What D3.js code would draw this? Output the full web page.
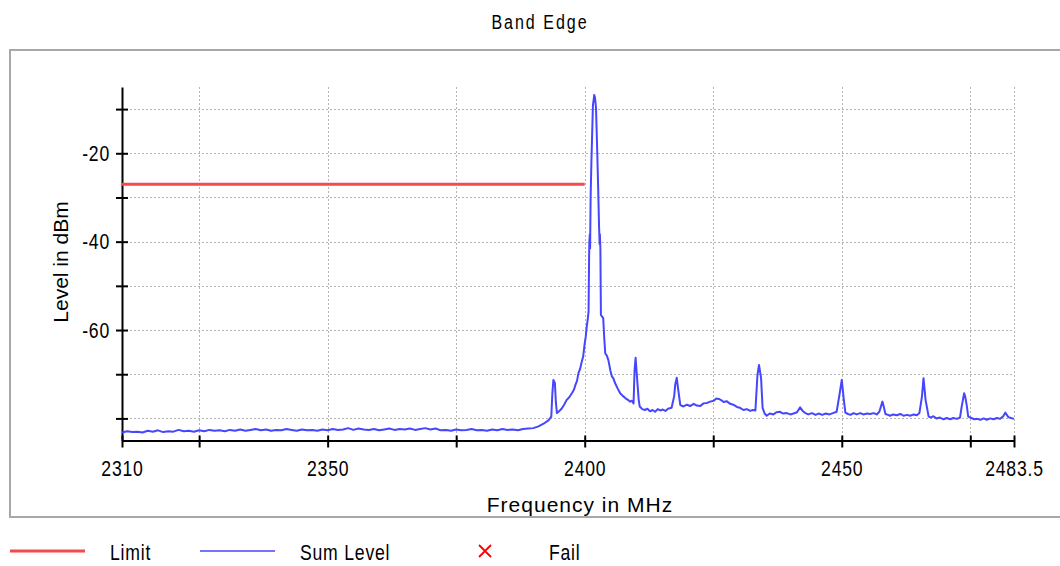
<!DOCTYPE html>
<html>
<head>
<meta charset="utf-8">
<script src="https://cdn.jsdelivr.net/npm/d3@7"></script>
<style>
  body { margin: 0; background: #fff; }
  svg { display: block; }
  .narrow { font-family: "Liberation Sans", Arial, sans-serif; fill: #000; }
  .axis-title { font-family: "Liberation Sans", Arial, sans-serif; font-size: 21px; fill: #000; }
</style>
</head>
<body>
<svg id="chart" width="1060" height="566"></svg>
<script>
const chartTitle = 'Band Edge'
const xTitle = 'Frequency in MHz'
const yTitle = 'Level in dBm'
const freqDomain = [2310, 2483.5]
const levelDomain = [-85, -5]
const xTicks = [2310, 2325, 2350, 2375, 2400, 2425, 2450, 2475, 2483.5]
const xTickLabels = [2310, 2350, 2400, 2450, 2483.5]
const yTicks = [-10, -20, -30, -40, -50, -60, -70, -80]
const yTickLabels = [-20, -40, -60]
const legendNames = ['Limit', 'Sum Level', 'Fail']

// limit line: [freq MHz, level dBm]
const limit = [[2310, -27], [2400, -27]]

// Sum Level trace: [freq MHz, level dBm]
const sumLevel = [
  [2310, -83.2], [2311, -82.9], [2312, -83.1], [2313, -83.0], [2314, -83.2], [2315, -82.8], [2316, -83.0],
  [2317, -82.7], [2318, -83.1], [2319, -82.9], [2320, -83.0], [2321, -82.6], [2322, -82.9], [2323, -82.8],
  [2324, -83.0], [2325, -82.7], [2326, -82.9], [2327, -82.6], [2328, -82.8], [2329, -82.7], [2330, -82.9],
  [2331, -82.6], [2332, -82.8], [2333, -82.5], [2334, -82.8], [2335, -82.6], [2336, -82.4], [2337, -82.7],
  [2338, -82.5], [2339, -82.8], [2340, -82.6], [2341, -82.7], [2342, -82.4], [2343, -82.6], [2344, -82.8],
  [2345, -82.5], [2346, -82.7], [2347, -82.6], [2348, -82.8], [2349, -82.5], [2350, -82.7], [2351, -82.4],
  [2352, -82.6], [2353, -82.5], [2354, -82.2], [2355, -82.6], [2356, -82.3], [2357, -82.5], [2358, -82.6],
  [2359, -82.4], [2360, -82.7], [2361, -82.5], [2362, -82.3], [2363, -82.6], [2364, -82.4], [2365, -82.5],
  [2366, -82.3], [2367, -82.6], [2368, -82.4], [2369, -82.2], [2370, -82.5], [2371, -82.3], [2372, -82.7],
  [2373, -82.6], [2374, -82.8], [2375, -82.5], [2376, -82.7], [2377, -82.6], [2378, -82.4], [2379, -82.7],
  [2380, -82.6], [2381, -82.8], [2382, -82.5], [2383, -82.7], [2384, -82.4], [2385, -82.6], [2386, -82.5],
  [2387, -82.7], [2388, -82.4], [2389, -82.3], [2390, -82.2], [2391, -81.8], [2392, -81.2], [2393, -80.4],
  [2393.5, -79.6], [2393.7, -74.5], [2393.9, -71.3], [2394.2, -72.0], [2394.4, -76.5], [2394.6, -78.8],
  [2395.0, -78.4], [2395.5, -77.8], [2396.0, -76.9], [2396.5, -75.8], [2397.0, -75.2], [2397.5, -74.3],
  [2397.9, -73.5], [2398.2, -72.4], [2398.5, -71.5], [2398.8, -69.7], [2399.1, -68.8], [2399.4, -67.3],
  [2399.7, -66.0], [2400.0, -63.0], [2400.2, -61.5], [2400.4, -59.2], [2400.6, -57.5], [2400.75, -55.8],
  [2400.85, -44.0], [2400.9, -40.0], [2401.0, -38.3], [2401.05, -41.5], [2401.15, -30.0], [2401.3, -22.0],
  [2401.6, -9.1], [2401.75, -7.8], [2401.85, -6.8], [2402.0, -7.4], [2402.2, -9.8], [2402.4, -18.0],
  [2402.6, -27.0], [2402.8, -36.9], [2402.9, -40.5], [2402.95, -38.3], [2403.05, -41.5], [2403.15, -56.6],
  [2403.6, -57.3], [2403.8, -61.8], [2404.0, -65.3], [2404.3, -65.8], [2404.6, -66.8], [2405.0, -69.2],
  [2405.3, -70.5], [2405.6, -71.0], [2405.9, -72.0], [2406.4, -73.2], [2406.9, -74.3], [2407.4, -74.9],
  [2407.9, -75.4], [2408.4, -75.8], [2408.8, -76.2], [2409.2, -76.0], [2409.5, -76.6], [2409.7, -69.0],
  [2409.9, -66.3], [2410.1, -69.5], [2410.5, -75.8], [2410.7, -77.3], [2411.2, -77.9], [2411.7, -78.1],
  [2412.2, -77.8], [2412.7, -78.4], [2413.2, -78.1], [2413.7, -78.5], [2414.2, -77.9], [2414.7, -78.2],
  [2415.2, -78.0], [2415.7, -78.3], [2416.2, -77.8], [2416.9, -77.6], [2417.4, -75.0], [2417.6, -72.4],
  [2417.9, -70.8], [2418.2, -73.6], [2418.6, -77.0], [2419.2, -77.3], [2419.9, -76.9], [2420.5, -77.2],
  [2421.2, -76.7], [2421.8, -77.1], [2422.5, -77.2], [2423.1, -76.6], [2423.8, -76.5], [2424.4, -76.2],
  [2425.1, -76.0], [2425.6, -75.5], [2426.1, -75.6], [2426.6, -75.9], [2427.0, -76.3], [2427.6, -76.1],
  [2428.3, -76.7], [2428.9, -76.9], [2429.6, -77.4], [2430.2, -77.6], [2430.9, -78.1], [2431.5, -77.9],
  [2432.2, -78.3], [2432.7, -78.1], [2433.2, -78.2], [2433.6, -70.2], [2433.9, -67.9], [2434.3, -70.8],
  [2434.6, -77.6], [2435.0, -78.9], [2435.4, -79.4], [2436.0, -78.9], [2436.7, -79.1], [2437.3, -78.6],
  [2438.0, -78.5], [2438.6, -78.9], [2439.3, -78.8], [2440.0, -79.1], [2440.6, -78.9], [2441.3, -78.6],
  [2441.9, -77.5], [2442.4, -78.3], [2442.9, -78.8], [2443.5, -79.1], [2444.2, -78.8], [2444.9, -79.2],
  [2445.5, -78.9], [2446.2, -79.2], [2446.9, -78.9], [2447.6, -79.1], [2448.3, -78.8], [2449.0, -78.5],
  [2449.6, -74.3], [2450.0, -71.3], [2450.4, -75.8], [2450.7, -78.7], [2451.2, -79.0], [2451.7, -79.2],
  [2452.3, -78.8], [2452.9, -79.1], [2453.6, -78.8], [2454.2, -79.1], [2454.9, -78.9], [2455.5, -79.0],
  [2456.2, -78.8], [2456.8, -79.1], [2457.3, -78.5], [2457.7, -77.0], [2457.9, -76.2], [2458.2, -77.5],
  [2458.5, -79.0], [2459.0, -79.2], [2459.4, -79.4], [2460.0, -79.1], [2460.7, -79.3], [2461.4, -79.0],
  [2462.0, -79.4], [2462.7, -79.2], [2463.3, -79.4], [2464.0, -79.1], [2464.6, -79.3], [2465.1, -78.8],
  [2465.6, -75.0], [2465.9, -70.9], [2466.3, -75.8], [2466.9, -79.6], [2467.4, -79.8], [2467.8, -79.5],
  [2468.4, -80.0], [2469.1, -79.8], [2469.8, -80.2], [2470.4, -79.9], [2471.1, -80.2], [2471.7, -79.9],
  [2472.4, -80.1], [2473.0, -79.8], [2473.3, -77.5], [2473.5, -76.2], [2473.8, -74.3], [2474.0, -75.0],
  [2474.3, -77.0], [2474.6, -79.6], [2475.2, -79.9], [2475.8, -80.2], [2476.3, -80.1], [2477.0, -80.3],
  [2477.6, -80.0], [2478.2, -80.3], [2478.9, -80.0], [2479.5, -80.2], [2480.2, -79.9], [2480.8, -80.1],
  [2481.4, -79.5], [2481.8, -78.7], [2482.1, -79.2], [2482.4, -79.7], [2482.9, -79.9], [2483.5, -80.1]
]

const svg = d3.select('#chart')
const limitColor = '#f24b4b'
const traceColor = '#4646ff'
const gridColor = '#b4b4b4'
const squeeze = 0.8 // the reference font is tall and narrow

const x = d3.scaleLinear().domain(freqDomain).range([122, 1014])
const y = d3.scaleLinear().domain(levelDomain).range([440.5, 87])

function narrow(sel, size, spacing) {
  sel.attr('class', 'narrow')
    .attr('font-family', null)
    .style('font-size', size + 'px')
    .style('letter-spacing', spacing + 'px')
}

// title
svg.append('text')
  .call(narrow, 20, 2.5)
  .attr('transform', `scale(${squeeze},1)`)
  .attr('x', 540 / squeeze).attr('y', 29)
  .attr('text-anchor', 'middle')
  .text(chartTitle)

// panel
svg.append('clipPath').attr('id', 'panel-clip')
  .append('rect').attr('x', 10).attr('y', 50).attr('width', 1060).attr('height', 467)

svg.append('rect')
  .attr('x', 10).attr('y', 50).attr('width', 1060).attr('height', 467)
  .attr('fill', '#fff')
  .attr('stroke', '#a8a8a8')
  .attr('stroke-width', 2)

const plot = svg.append('g').attr('clip-path', 'url(#panel-clip)')

// grid
plot.append('g')
  .selectAll('line')
  .data(yTicks)
  .join('line')
  .attr('x1', x(freqDomain[0])).attr('x2', x(freqDomain[1]))
  .attr('y1', d => Math.round(y(d)) + 0.5).attr('y2', d => Math.round(y(d)) + 0.5)
  .attr('stroke', gridColor).attr('stroke-dasharray', '2,2')

plot.append('g')
  .selectAll('line')
  .data(xTicks.slice(1))
  .join('line')
  .attr('x1', d => Math.round(x(d)) + 0.5).attr('x2', d => Math.round(x(d)) + 0.5)
  .attr('y1', y(levelDomain[1])).attr('y2', y(levelDomain[0]))
  .attr('stroke', gridColor).attr('stroke-dasharray', '2,2')

// axes
const yAxis = plot.append('g')
  .attr('transform', `translate(${x(freqDomain[0])},0)`)
  .call(d3.axisLeft(y).tickValues(yTicks).tickSizeInner(6).tickSizeOuter(0)
    .tickFormat(d => yTickLabels.includes(d) ? d : ''))

yAxis.selectAll('.tick line').attr('x1', 6)
yAxis.selectAll('.tick text')
  .call(narrow, 22, 1)
  .attr('x', -12 / squeeze)
  .attr('transform', `scale(${squeeze},1)`)

const xAxis = plot.append('g')
  .attr('transform', `translate(0,${y(levelDomain[0])})`)
  .call(d3.axisBottom(x).tickValues(xTicks).tickSizeInner(7).tickSizeOuter(0)
    .tickFormat(d => xTickLabels.includes(d) ? d : '').tickPadding(13))

xAxis.selectAll('.tick line').attr('y1', -5)
xAxis.selectAll('.tick text')
  .call(narrow, 22, 1)
  .attr('transform', `scale(${squeeze},1)`)

for (const ax of [xAxis, yAxis]) {
  ax.select('.domain').attr('stroke', '#000').attr('stroke-width', 2)
  ax.selectAll('.tick line').attr('stroke', '#000').attr('stroke-width', 2)
}

// axis titles
plot.append('text')
  .attr('class', 'axis-title')
  .attr('transform', 'translate(68,262) rotate(-90)')
  .attr('text-anchor', 'middle')
  .text(yTitle)

plot.append('text')
  .attr('class', 'axis-title')
  .attr('x', 580).attr('y', 512)
  .attr('text-anchor', 'middle')
  .style('letter-spacing', '1px')
  .text(xTitle)

// limit
const line = d3.line().x(d => x(d[0])).y(d => y(d[1]))

plot.append('path')
  .datum(limit)
  .attr('d', line)
  .attr('fill', 'none')
  .attr('stroke', limitColor)
  .attr('stroke-width', 3)

// sum level trace
plot.append('path')
  .datum(sumLevel)
  .attr('d', line)
  .attr('fill', 'none')
  .attr('stroke', traceColor)
  .attr('stroke-width', 2)
  .attr('stroke-linejoin', 'round')

// legend
const legend = svg.append('g').attr('transform', 'translate(0,551)')

legend.append('line')
  .attr('x1', 10).attr('x2', 85)
  .attr('stroke', limitColor).attr('stroke-width', 3)

legend.append('line')
  .attr('x1', 200).attr('x2', 275)
  .attr('stroke', traceColor).attr('stroke-width', 1.5)

legend.append('path')
  .attr('d', 'M479,-6L491,6M491,-6L479,6')
  .attr('stroke', '#ff0000').attr('stroke-width', 1.8)

legend.selectAll('text.legend')
  .data(legendNames)
  .join('text')
  .call(narrow, 22, 1)
  .classed('legend', true)
  .attr('transform', `scale(${squeeze},1)`)
  .attr('x', (d, i) => [110, 300, 549][i] / squeeze)
  .attr('y', 9)
  .text(d => d)
</script>
</body>
</html>
